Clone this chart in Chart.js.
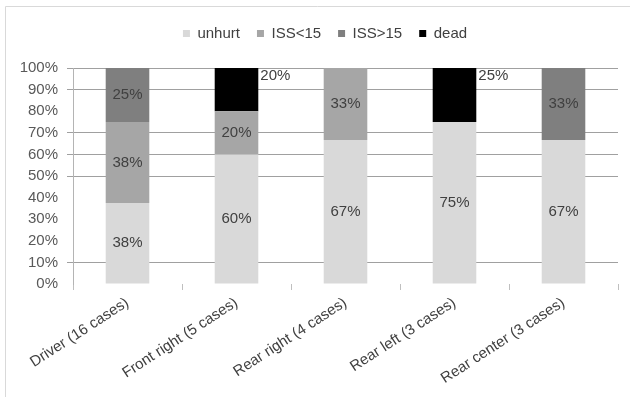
<!DOCTYPE html>
<html>
<head>
<meta charset="utf-8">
<script src="https://cdn.jsdelivr.net/npm/chart.js@4/dist/chart.umd.min.js"></script>
<style>
  html, body { margin: 0; padding: 0; background: #fff; }
  #wrap { width: 630px; height: 397px; position: relative; }
</style>
</head>
<body>
<div id="wrap"><canvas id="c" width="630" height="397"></canvas></div>
<script>
// Injury outcome share by seating position (percent of cases)
const categories = ['Driver (16 cases)', 'Front right (5 cases)', 'Rear right (4 cases)', 'Rear left (3 cases)', 'Rear center (3 cases)'];
const unhurt     = [37.5, 60, 66.7, 75, 66.7];
const issUnder15 = [37.5, 20, 33.3, 0, 0];
const issOver15  = [25, 0, 0, 0, 33.3];
const dead       = [0, 20, 0, 25, 0];
const yTicks     = [0, 10, 20, 30, 40, 50, 60, 70, 80, 90, 100];
const shownGrid  = [10, 50, 60, 70, 90, 100];

const FONT = 'Liberation Sans, Arial, sans-serif';
const TEXT = '#404040';

// light outer frame around the chart
const framePlugin = {
  id: 'frame',
  beforeDraw(chart) {
    const ctx = chart.ctx;
    ctx.save();
    ctx.strokeStyle = '#d9d9d9';
    ctx.lineWidth = 1;
    ctx.beginPath();
    ctx.moveTo(5.5, 397);
    ctx.lineTo(5.5, 6.5);
    ctx.lineTo(630, 6.5);
    ctx.stroke();
    ctx.restore();
  }
};

// extra empty space between the legend row and the plot; legend nudged right
const legendGap = {
  id: 'legendGap',
  afterInit(chart) {
    const lg = chart.legend;
    if (!lg) return;
    const fit = lg.fit;
    lg.fit = function () {
      fit.call(this);
      this.height += 17;
    };
  },
  afterLayout(chart) {
    const lg = chart.legend;
    if (!lg) return;
    lg.left += 16;
    lg.right += 16;
  }
};

// percentage labels on the bar segments; the "dead" segments get theirs beside the bar top
const valueLabels = {
  id: 'valueLabels',
  afterDatasetsDraw(chart) {
    const ctx = chart.ctx;
    ctx.save();
    ctx.font = '15px ' + FONT;
    ctx.fillStyle = TEXT;
    chart.data.datasets.forEach((ds, di) => {
      const meta = chart.getDatasetMeta(di);
      meta.data.forEach((bar, i) => {
        const v = ds.data[i];
        if (!v) return;
        const txt = Math.round(v) + '%';
        ctx.textBaseline = 'middle';
        if (ds.label === 'dead') {
          ctx.textAlign = 'left';
          ctx.fillText(txt, bar.x + bar.width / 2 + 2, bar.y + 8);
        } else {
          ctx.textAlign = 'center';
          ctx.fillText(txt, bar.x, (bar.y + bar.base) / 2);
        }
      });
    });
    ctx.restore();
  }
};

const mk = (label, data, color) => ({
  label, data, backgroundColor: color, borderWidth: 0,
  barPercentage: 0.4, categoryPercentage: 1.0
});

new Chart(document.getElementById('c'), {
  type: 'bar',
  data: {
    labels: categories,
    datasets: [
      mk('unhurt', unhurt, '#d9d9d9'),
      mk('ISS<15', issUnder15, '#a6a6a6'),
      mk('ISS>15', issOver15, '#7f7f7f'),
      mk('dead', dead, '#000000')
    ]
  },
  options: {
    responsive: false,
    animation: false,
    layout: { padding: { left: 0, right: 12, top: 9, bottom: 0 } },
    plugins: {
      legend: {
        position: 'top',
        labels: {
          boxWidth: 7, boxHeight: 7, padding: 17,
          color: TEXT, font: { family: FONT, size: 15 }
        }
      },
      tooltip: { enabled: false }
    },
    scales: {
      x: {
        stacked: true,
        grid: { display: true, drawOnChartArea: false, offset: true, tickLength: 6, color: '#bfbfbf' },
        border: { display: false },
        ticks: {
          color: TEXT, font: { family: FONT, size: 15 },
          minRotation: 33, maxRotation: 33, padding: 4
        },
        afterFit(s) { s.height = 113; }
      },
      y: {
        stacked: true,
        min: 0, max: 100,
        afterBuildTicks(s) { s.ticks = yTicks.map(v => ({ value: v })); },
        grid: {
          tickLength: 6,
          color: c => shownGrid.includes(c.tick.value) ? '#a0a0a0' : 'rgba(0,0,0,0)'
        },
        border: { display: true, color: '#b4b4b4' },
        ticks: {
          color: '#595959', font: { family: FONT, size: 15 }, padding: 9,
          callback: v => v + '%'
        },
        afterFit(s) { s.width = 73; }
      }
    }
  },
  plugins: [framePlugin, legendGap, valueLabels]
});
</script>
</body>
</html>
